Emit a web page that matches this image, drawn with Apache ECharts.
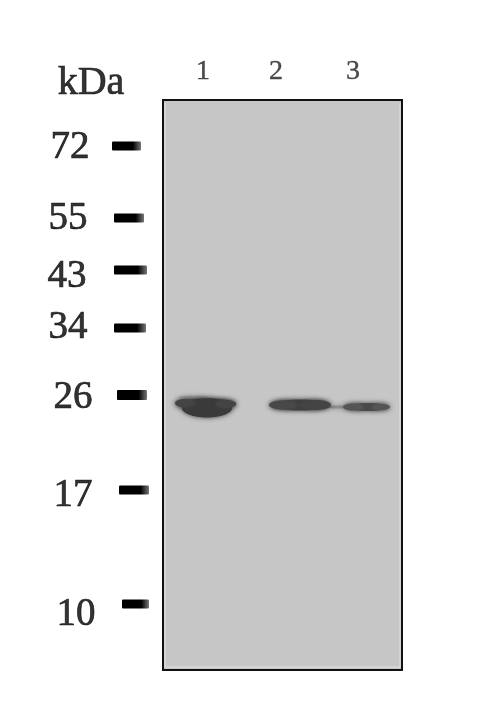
<!DOCTYPE html>
<html><head><meta charset="utf-8">
<style>html,body{margin:0;padding:0;background:#fff}#c{width:500px;height:719px;filter:blur(0.5px)}</style>
<script src="https://cdn.jsdelivr.net/npm/echarts@6/dist/echarts.min.js"></script>
</head><body><div id="c"></div>
<script>
// Molecular-weight ladder
const markerLabels = ['72','55','43','34','26','17','10'];
const markerMigration = [46,118,170,228,295,390,504];
const markerStart = [-51,-49,-49,-49,-46,-44,-41];
const markerEnd = [-22,-19,-16,-17,-16,-14,-14];
const markerThick = [9,9,9,9,10,9,9];
const labelX = [-93,-95,-96,-95,-90,-90,-87];
const labelY = [48,119,177,228,298,396,515];
// Lanes
const laneLabels = ['1','2','3'];
const laneX = [40,113,190];
const laneY = [-28,-28,-28];
// Band blobs: lane position, migration, width, height, colour
const blobX = [30,175,43,44,22,63,137,120,153,205,190,218];
const blobY = [297,307,304,308,303,304,305,305,305,307,307,307];
const blobW = [30,22,60,50,20,20,58,28,30,42,20,18];
const blobH = [3,3,11,19,8,8,11,9,10,8,7,6];
const blobC = ['#a8a8a8','#8e8e8e','#3f3f3f','#3a3a3a','#444','#444','#404040','#484848','#444','#4a4a4a','#555','#555'];
// Inner highlight just inside the frame
const edgeX = [2,2,237,237];
const edgeY = [3,567,567,3];

const blobs = blobX.map((x,i)=>[x,blobY[i],blobW[i],blobH[i],blobC[i]]);
const markers = markerLabels.map((l,i)=>[markerStart[i],markerEnd[i],markerMigration[i],markerThick[i]]);
const serif = '"Liberation Serif","DejaVu Serif",serif';
const textStyle = {show:true,position:'inside',formatter:'{b}',fontFamily:serif,fontSize:39,color:'#000',textBorderColor:'#000',textBorderWidth:0.7};

const chart = echarts.init(document.getElementById('c'),null,{renderer:'canvas'});
chart.setOption({
  animation:false,
  backgroundColor:'#fff',
  grid:{left:163,right:98,top:100,bottom:49,show:true,backgroundColor:'#c6c6c6',borderColor:'#111',borderWidth:2},
  xAxis:{type:'value',min:0,max:239,show:false},
  yAxis:{type:'value',min:0,max:570,inverse:true,show:false},
  series:[
    {type:'line',silent:true,symbol:'none',data:edgeX.map((x,i)=>[x,edgeY[i]]),
     lineStyle:{color:'#e2e2e2',width:1}},
    {type:'custom',clip:false,silent:true,coordinateSystem:'cartesian2d',
     data:blobs,encode:{x:0,y:1},
     renderItem(p,api){
       const c=api.coord([api.value(0),api.value(1)]);
       const col=blobs[p.dataIndex][4];
       return {type:'ellipse',shape:{cx:c[0],cy:c[1],rx:api.value(2)/2,ry:api.value(3)/2},
         style:{fill:col,shadowBlur:5,shadowColor:col}};
     }},
    {type:'custom',clip:false,silent:true,coordinateSystem:'cartesian2d',
     data:markers,encode:{x:[0,1],y:2},
     renderItem(p,api){
       const a=api.coord([api.value(0),api.value(2)]);
       const b=api.coord([api.value(1),api.value(2)]);
       const h=api.value(3);
       return {type:'rect',shape:{x:a[0],y:a[1]-h/2,width:b[0]-a[0],height:h,r:1},
         style:{fill:new echarts.graphic.LinearGradient(0,0,1,0,[
           {offset:0,color:'#000'},{offset:.72,color:'#000'},{offset:1,color:'#777'}])}};
     }},
    {type:'scatter',symbolSize:0,clip:false,silent:true,
     data:markerLabels.map((l,i)=>({value:[labelX[i],labelY[i]],name:l})),
     label:textStyle},
    {type:'scatter',symbolSize:0,clip:false,silent:true,
     data:laneLabels.map((l,i)=>({value:[laneX[i],laneY[i]],name:l})),
     label:{...textStyle,fontSize:28,color:'#222',textBorderColor:'#222',textBorderWidth:0.4}},
    {type:'scatter',symbolSize:0,clip:false,silent:true,
     data:[{value:[-72,-17],name:'kDa'}],
     label:{...textStyle,fontSize:40}}
  ]
});
</script></body></html>
